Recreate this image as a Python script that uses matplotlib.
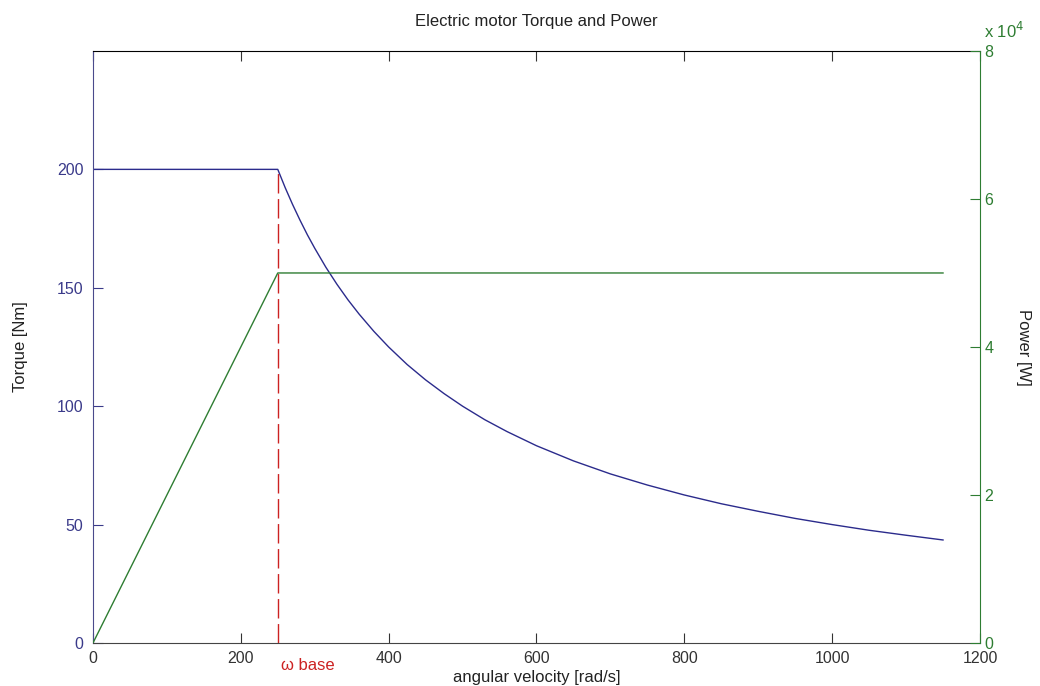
import matplotlib
matplotlib.use('Agg')
import matplotlib.pyplot as plt

plt.rcParams['font.family'] = ['Liberation Sans', 'DejaVu Sans']

# angular velocity [rad/s] and torque [Nm]
omega = [0, 250, 260, 270, 280, 290, 300, 315, 330, 345, 360, 380, 400,
         425, 450, 475, 500, 530, 560, 600, 650, 700, 750, 800, 850, 900,
         950, 1000, 1050, 1100, 1150]
torque = [200, 200, 192.3, 185.2, 178.6, 172.4, 166.7, 158.7, 151.5, 144.9,
          138.9, 131.6, 125, 117.6, 111.1, 105.3, 100, 94.3, 89.3, 83.3,
          76.9, 71.4, 66.7, 62.5, 58.8, 55.6, 52.6, 50, 47.6, 45.5, 43.5]
# power [W]
power_omega = [0, 250, 1150]
power = [0, 50000, 50000]
omega_base = 250
torque_max = 200

blue = '#2b2b8c'
green = '#2e7d32'
red = '#cc2222'

fig = plt.figure(figsize=(10.4, 6.86), dpi=100)
ax = fig.add_axes([0.0894, 0.0627, 0.8529, 0.863])
ax2 = ax.twinx()

ax.plot(omega, torque, color=blue, linewidth=1)
ax.plot([omega_base, omega_base], [0, torque_max], color=red, linewidth=1,
        linestyle=(0, (14, 4)))
ax2.plot(power_omega, power, color=green, linewidth=1)

ax.set_xlim(0, 1200)
ax.set_ylim(0, 250)
ax.set_yticks([0, 50, 100, 150, 200])
ax.set_xticks([0, 200, 400, 600, 800, 1000, 1200])
ax2.set_ylim(0, 80000)
ax2.set_yticks([0, 20000, 40000, 60000, 80000])
ax2.set_yticklabels(['0', '2', '4', '6', '8'])

ax.tick_params(axis='x', direction='in', top=True, length=7, labelsize=11.5,
               colors='#333333', pad=6)
ax.tick_params(axis='y', direction='in', length=7, labelsize=11.5,
               colors='#3a3a8a', pad=7)
ax2.tick_params(axis='y', direction='in', length=7, labelsize=11.5,
                colors=green, pad=3)

ax.spines['left'].set_color('#4a4a8c')
ax.spines['right'].set_visible(False)
ax.spines['top'].set_color('black')
ax.spines['bottom'].set_color('#444444')
ax2.spines['right'].set_color(green)
ax2.spines['left'].set_visible(False)
ax2.spines['top'].set_visible(False)
ax2.spines['bottom'].set_visible(False)

ax.set_xlabel('angular velocity [rad/s]', fontsize=12, color='#222222',
              labelpad=2.5)
ax.set_ylabel('Torque [Nm]', fontsize=12, color='#222222', va='center')
ax.yaxis.set_label_coords(-0.082, 0.5)
ax2.set_ylabel('Power [W]', fontsize=12, color='#222222', rotation=-90,
               va='center')
ax2.yaxis.set_label_coords(1.0485, 0.5)
ax.set_title('Electric motor Torque and Power', fontsize=12,
             color='#222222', pad=18)

ax.text(omega_base + 4, -0.025, 'ω base', color=red, fontsize=12,
        transform=ax.get_xaxis_transform(), ha='left', va='top')
ax2.text(1.004, 1.022, r'x 10$^{4}$', color=green, fontsize=12,
         transform=ax2.transAxes, ha='left', va='baseline')

fig.savefig('out.png', dpi=100)
